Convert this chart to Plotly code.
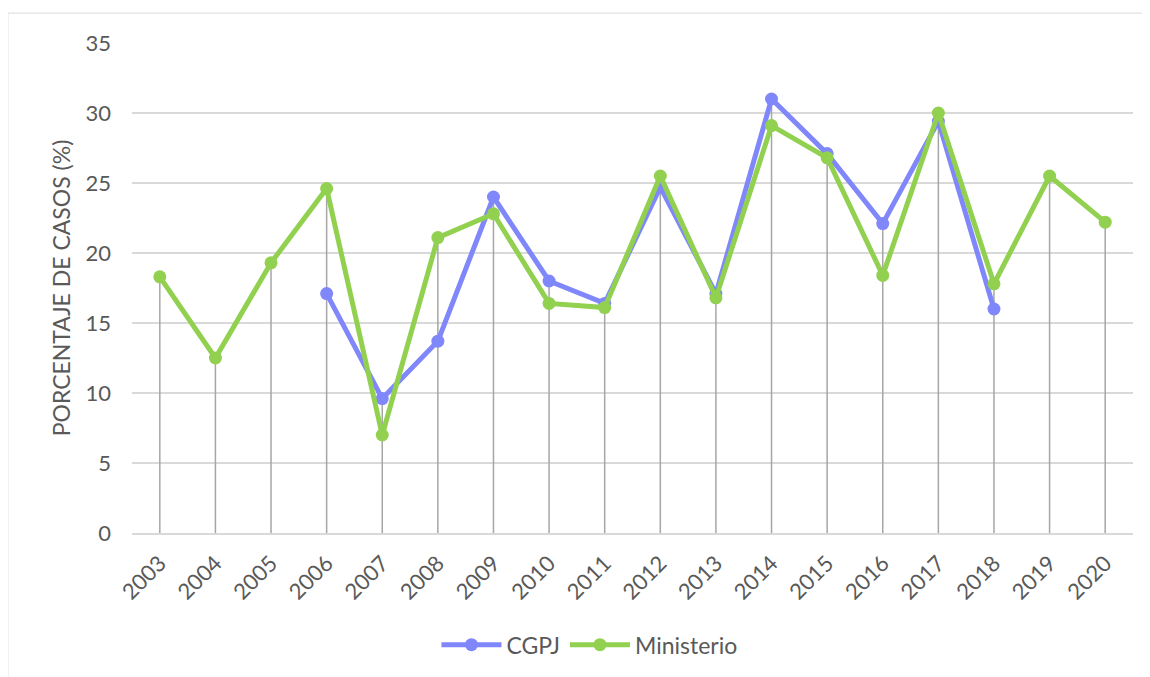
import plotly.graph_objects as go

years = [str(y) for y in range(2003, 2021)]
cgpj = [None, None, None, 17.1, 9.6, 13.7, 24.0, 18.0, 16.4, 24.7,
        17.1, 31.0, 27.1, 22.1, 29.4, 16.0, None, None]
ministerio = [18.3, 12.5, 19.3, 24.6, 7.0, 21.1, 22.8, 16.4, 16.1, 25.5,
              16.8, 29.1, 26.8, 18.4, 30.0, 17.8, 25.5, 22.2]

font_family = "Lato, 'Noto Sans', sans-serif"
grey_text = "#595959"

# vertical drop lines from the highest point of each year down to zero
drop_x, drop_y = [], []
for yr, a, b in zip(years, cgpj, ministerio):
    top = max(v for v in (a, b) if v is not None)
    drop_x += [yr, yr, None]
    drop_y += [0, top, None]

fig = go.Figure()
fig.add_trace(go.Scatter(
    x=drop_x, y=drop_y, mode="lines",
    line=dict(color="#A6A6A6", width=1.5),
    showlegend=False, hoverinfo="skip"))
fig.add_trace(go.Scatter(
    x=years, y=cgpj, name="CGPJ", mode="lines+markers",
    line=dict(color="#7F87FA", width=5),
    marker=dict(size=13, color="#7F87FA")))
fig.add_trace(go.Scatter(
    x=years, y=ministerio, name="Ministerio", mode="lines+markers",
    line=dict(color="#92D050", width=5),
    marker=dict(size=13, color="#92D050")))

fig.update_xaxes(
    type="category", range=[-0.5, 17.5], tickangle=-45, automargin=False,
    tickfont=dict(size=22, color=grey_text, family=font_family),
    ticklabelstandoff=7,
    showgrid=False, showline=True, linecolor="#D9D9D9", linewidth=1.5,
    zeroline=False, ticks="")
fig.update_yaxes(
    range=[0, 35], dtick=5, showgrid=True, gridcolor="#D9D9D9", gridwidth=1.5,
    zeroline=False, automargin=False, ticklabelstandoff=20,
    tickfont=dict(size=22, color=grey_text, family=font_family),
    title=dict(text="PORCENTAJE DE CASOS (%)", standoff=8,
               font=dict(size=23, color=grey_text, family=font_family)))

# light border of the chart area
fig.add_shape(type="rect", xref="paper", yref="paper",
              x0=-0.124, x1=1.05, y0=-0.35, y1=1.061,
              line=dict(color="#D9D9D9", width=1), layer="below")

fig.update_layout(
    width=1150, height=677,
    margin=dict(l=124, r=25, t=35, b=152),
    plot_bgcolor="white", paper_bgcolor="white",
    font=dict(family=font_family, color=grey_text),
    legend=dict(orientation="h", x=0.457, xanchor="center", y=-0.228, yanchor="middle",
                font=dict(size=23, color=grey_text, family=font_family),
                itemwidth=60),
    hovermode="x")

fig.write_html("out.html")
